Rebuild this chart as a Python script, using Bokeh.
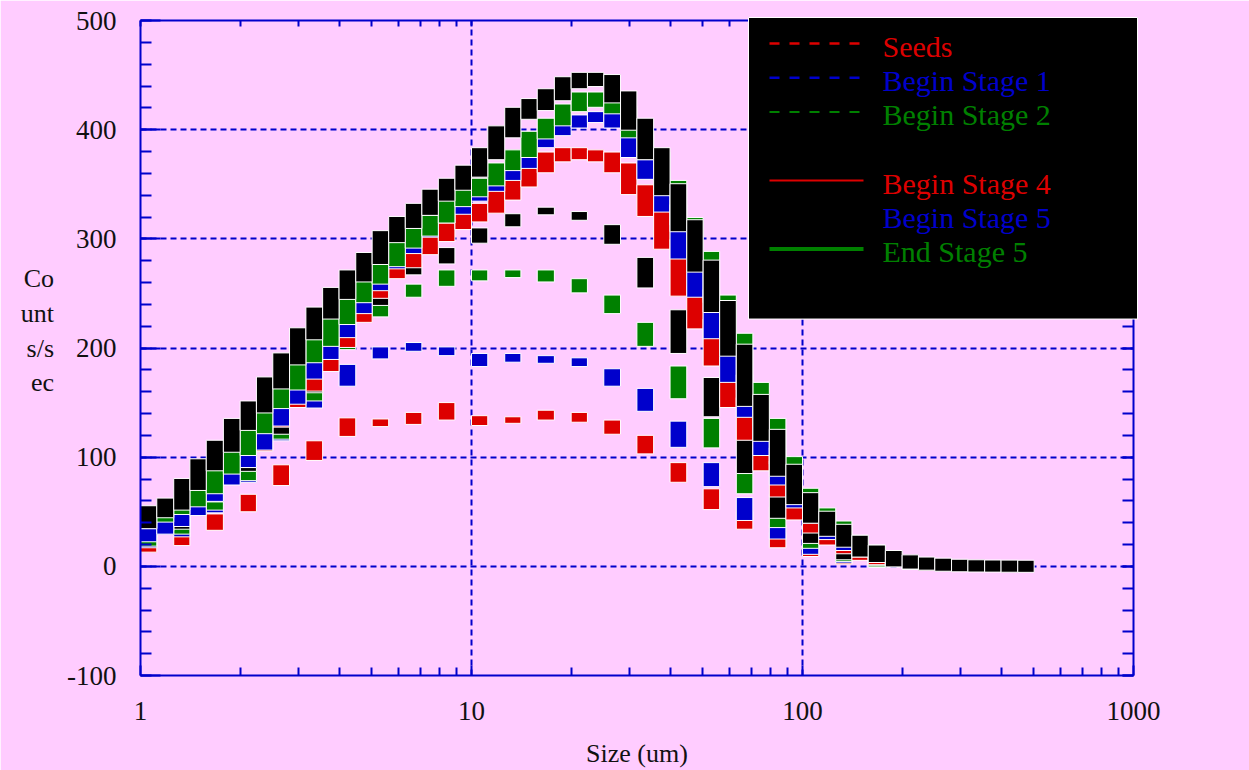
from bokeh.plotting import figure
from bokeh.models import (ColumnDataSource, LogAxis, LinearAxis, FixedTicker,
                          SingleIntervalTicker, NumeralTickFormatter,
                          Label, Range1d)
from bokeh.embed import file_html
from bokeh.resources import INLINE

# ---------------- data ----------------
sizes_um = [1.00, 1.12, 1.26, 1.41, 1.58, 1.78, 2.00, 2.24, 2.51, 2.82,
            3.16, 3.55, 3.98, 4.47, 5.01, 5.62, 6.31, 7.08, 7.94, 8.91,
            10.0, 11.2, 12.6, 14.1, 15.8, 17.8, 20.0, 22.4, 25.1, 28.2,
            31.6, 35.5, 39.8, 44.7, 50.1, 56.2, 63.1, 70.8, 79.4, 89.1,
            100, 112, 126, 141, 158, 178, 200, 224, 251, 282,
            316, 355, 398, 447, 501]

seeds = [16, 19, 22, 27, 36, 45, 53, 63, 77, 90,
         100, 112, 122, 133, 132, 131, 133, 138, 147, 137,
         135, 132, 134, 134, 137, 140, 138, 135, 131, 124,
         117, 106, 92, 80, 68, 55, 47, 37, 28, 20,
         16, 12, 8, 5, 3, 2, 1, 0.5, 0.3, 0.2,
         0.1, 0, 0, 0, 0]

begin_stage_1 = [20, 25, 30, 38, 52, 64, 80, 98, 118, 132,
                 148, 158, 168, 182, 193, 198, 200, 202, 198, 196,
                 192, 186, 190, 192, 189, 190, 188, 186, 178, 168,
                 160, 145, 130, 112, 92, 76, 60, 45, 35, 28,
                 20, 14, 9, 6, 3, 2, 1, 0.5, 0.3, 0.2,
                 0.1, 0, 0, 0, 0]

begin_stage_2 = [22, 28, 33, 40, 55, 68, 82, 100, 120, 138,
                 155, 172, 202, 220, 232, 243, 250, 255, 260, 268,
                 268, 265, 268, 268, 268, 264, 260, 254, 245, 235,
                 220, 205, 180, 157, 132, 112, 88, 70, 51, 39,
                 29, 20, 13, 8, 5, 3, 1.5, 0.7, 0.3, 0.2,
                 0.1, 0, 0, 0, 0]

begin_stage_3 = [30, 33, 37, 44, 62, 76, 90, 103, 124, 140,
                 162, 185, 205, 224, 242, 257, 270, 275, 280, 289,
                 299, 307, 314, 320, 326, 325, 322, 320, 310, 298,
                 280, 258, 232, 198, 170, 140, 113, 88, 63, 47,
                 33, 24, 15, 9, 6, 4, 2, 1, 0.5, 0.3,
                 0.1, 0, 0, 0, 0]

begin_stage_4 = [30, 37, 45, 52, 64, 80, 95, 110, 132, 150,
                 165, 183, 205, 228, 250, 268, 278, 290, 302, 313,
                 320, 328, 340, 352, 365, 375, 379, 377, 375, 365,
                 345, 325, 295, 252, 222, 188, 150, 120, 92, 68,
                 47, 35, 24, 16, 10, 6, 4, 2, 1, 0.5,
                 0.2, 0.1, 0, 0, 0]

begin_stage_5 = [26, 33, 40, 50, 63, 78, 94, 110, 132, 152,
                 175, 193, 213, 235, 256, 276, 290, 305, 318, 326,
                 338, 347, 357, 368, 387, 398, 405, 410, 413, 405,
                 378, 358, 328, 285, 250, 212, 172, 140, 105, 78,
                 57, 43, 28, 18, 12, 7, 4, 2, 1, 0.5,
                 0.2, 0.1, 0, 0, 0]

end_stage_5 = [38, 44, 51, 58, 70, 88, 105, 125, 148, 165,
               190, 205, 225, 245, 262, 278, 295, 306, 318, 333,
               342, 352, 366, 378, 395, 407, 420, 431, 424, 418,
               396, 376, 350, 316, 285, 245, 210, 165, 132, 97,
               68, 50, 38, 25, 16, 10, 6, 3, 2, 1,
               0.5, 0.2, 0, 0, 0]

final_product = [40, 50, 57, 75, 93, 110, 130, 146, 168, 190,
                 213, 232, 250, 266, 282, 302, 315, 327, 340, 350,
                 362, 378, 398, 415, 423, 432, 443, 447, 445, 430,
                 405, 378, 345, 312, 275, 238, 198, 152, 120, 88,
                 62, 45, 33, 23, 14, 9, 5, 3, 2, 1,
                 0.5, 0.3, 0.2, 0.1, 0]

series_values = [seeds, begin_stage_1, begin_stage_2, begin_stage_3,
                 begin_stage_4, begin_stage_5, end_stage_5, final_product]

x_ticks = [1, 10, 100, 1000]
y_label_text = "Co\nunt\ns/s\nec\n"
x_label_text = "Size (um)"

# ---------------- styles ----------------
RED, BLUE, GREEN, BLACK = "#DD0000", "#0000CC", "#008000", "#000000"
AXIS_BLUE = "#0000CC"
PINK = "#FFCCFF"
FONT = "Liberation Serif"
TXT = "#111111"

styles = [  # colour, dashed, half-thickness (value units)
    (RED, True, 3.0),
    (BLUE, True, 3.0),
    (GREEN, True, 3.5),
    (BLACK, True, 3.0),
    (RED, False, 4.5),
    (BLUE, False, 3.5),
    (GREEN, False, 3.5),
    (BLACK, False, 5.5),
]

# frame geometry (pixels) used to place the legend
FL, FR, FT, FB = 140, 1133, 20, 676
W, H = 1249, 770


def x_of(px):
    return 10 ** (3.0 * (px - FL) / (FR - FL))


def y_of(py):
    return 500 - 600.0 * (py - FT) / (FB - FT)


p = figure(width=W, height=H, x_axis_type="log",
           x_range=Range1d(1, 1000), y_range=Range1d(-100, 500),
           output_backend="svg", toolbar_location=None,
           background_fill_color=PINK, border_fill_color=PINK,
           min_border_left=FL, min_border_right=W - FR,
           min_border_top=FT, min_border_bottom=H - FB,
           outline_line_color=None)

# ---------------- axes ----------------
x_minor = [m * d for d in (1, 10, 100) for m in range(2, 10)]
xt = FixedTicker(ticks=x_ticks, minor_ticks=x_minor)
yt = SingleIntervalTicker(interval=100, num_minor_ticks=5)

xa = p.xaxis[0]
xa.ticker = xt
xa.formatter = NumeralTickFormatter(format="0")
xa.axis_label = x_label_text
xa.axis_label_standoff = 16
xa.major_label_standoff = 26

ya = p.yaxis[0]
ya.ticker = yt
ya.formatter = NumeralTickFormatter(format="0")
ya.major_label_standoff = 24
ya.axis_label = y_label_text
ya.axis_label_orientation = "horizontal"
ya.axis_label_standoff = 10

top = LogAxis(ticker=xt, major_label_text_font_size="1px",
              major_label_text_alpha=0, major_label_standoff=0)
right = LinearAxis(ticker=yt, major_label_text_font_size="1px",
                   major_label_text_alpha=0, major_label_standoff=0)
p.add_layout(top, "above")
p.add_layout(right, "right")

for ax in (xa, ya, top, right):
    ax.axis_line_color = AXIS_BLUE
    ax.axis_line_width = 2
    ax.major_tick_line_color = AXIS_BLUE
    ax.minor_tick_line_color = AXIS_BLUE
    ax.major_tick_line_width = 2
    ax.minor_tick_line_width = 2
    ax.major_tick_out = 0
    ax.minor_tick_out = 0
    ax.major_label_text_font = FONT
    ax.axis_label_text_font = FONT
    ax.axis_label_text_font_style = "normal"
    ax.axis_label_text_color = TXT
    ax.major_label_text_color = TXT

for ax in (xa, ya):
    ax.major_label_text_font_size = "27px"
    ax.axis_label_text_font_size = "26px"

ya.major_tick_in = 20
ya.minor_tick_in = 11
xa.major_tick_in = 10
xa.minor_tick_in = 8
top.major_tick_in = 6
top.minor_tick_in = 6
right.major_tick_in = 11
right.minor_tick_in = 11

for g in (p.xgrid[0], p.ygrid[0]):
    g.grid_line_color = AXIS_BLUE
    g.grid_line_width = 2
    g.grid_line_dash = "6 4"
p.xgrid[0].ticker = xt
p.ygrid[0].ticker = yt

# ---------------- series: blocky thick segments ----------------
for ys, (col, dashed, h) in zip(series_values, styles):
    L, R, B, T = [], [], [], []
    for i in range(len(sizes_um) - 1):
        if dashed and i % 2 == 1:
            continue
        y0, y1 = ys[i], ys[i + 1]
        if y0 == 0 and y1 == 0:
            continue
        L.append(sizes_um[i])
        R.append(sizes_um[i + 1])
        B.append(min(y0, y1) - h)
        T.append(max(y0, y1) + h)
    src = ColumnDataSource(dict(left=L, right=R, bottom=B, top=T))
    p.quad(left="left", right="right", bottom="bottom", top="top", source=src,
           fill_color=col, line_color="white", line_width=1)

# ---------------- legend (drawn by hand, black box above the axes) ----------------
p.quad(left=[x_of(748)], right=[x_of(1137)], top=[y_of(17)], bottom=[y_of(319)],
       fill_color="black", line_color="white", line_width=1, level="overlay")

legend_rows = [  # (text, colour, sample dash, sample width) ; None text = blank row
    ("Seeds", RED, "10 10", 2.5),
    ("Begin Stage 1", BLUE, "10 10", 2.5),
    ("Begin Stage 2", GREEN, "10 10", 2),
    (None, BLACK, None, 0),
    ("Begin Stage 4", RED, "solid", 2),
    ("Begin Stage 5", BLUE, None, 0),
    ("End Stage 5", GREEN, "solid", 4),
]
row0, row_step = 45.0, 34.3
for k, (txt, col, dash, w) in enumerate(legend_rows):
    cy = row0 + k * row_step
    if dash is not None and w > 0:
        p.segment(x0=[x_of(769)], x1=[x_of(863)], y0=[y_of(cy - 2)], y1=[y_of(cy - 2)],
                  line_color=col, line_width=w, line_dash=dash, level="overlay")
    if txt:
        p.add_layout(Label(x=x_of(882), y=y_of(cy + 1), text=txt, text_color=col,
                           text_font=FONT, text_font_size="30px",
                           text_baseline="middle", level="overlay"))

open("out.html", "w").write(file_html(p, INLINE))
